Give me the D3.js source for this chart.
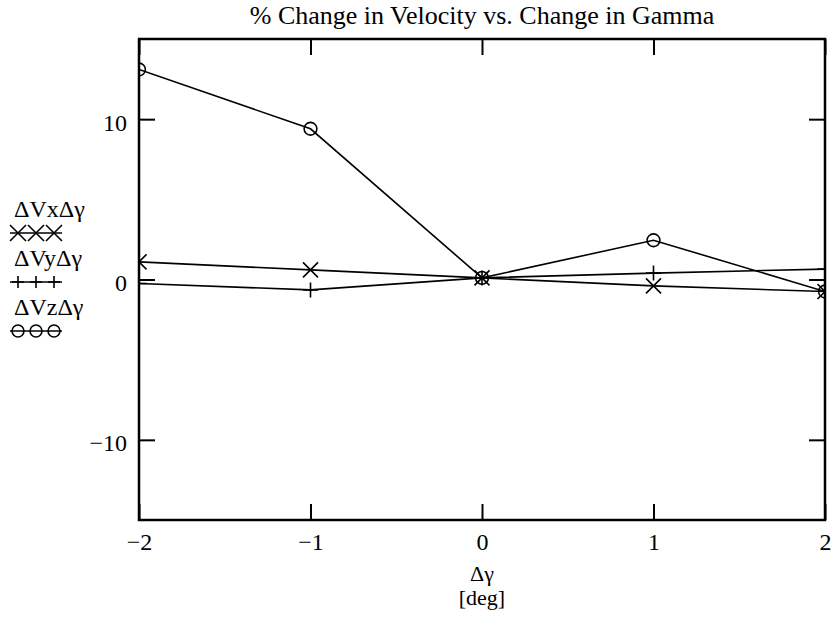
<!DOCTYPE html>
<html><head><meta charset="utf-8">
<script src="https://cdn.jsdelivr.net/npm/d3@7"></script>
<style>body{margin:0;background:#fff}svg{display:block}</style>
</head><body>
<script>
const gammaX = [-2, -1, 0, 1, 2];
const dVx = [1.1, 0.6, 0.1, -0.4, -0.75];
const dVy = [-0.25, -0.65, 0.1, 0.4, 0.65];
const dVz = [13.1, 9.4, 0.1, 2.45, -0.75];
const xTicks = [-2, -1, 0, 1, 2];
const yTicks = [-10, 0, 10];
const seriesNames = ["\u0394Vx\u0394\u03b3", "\u0394Vy\u0394\u03b3", "\u0394Vz\u0394\u03b3"];
const markerTypes = ["x", "plus", "circle"];

const FONT = "'Liberation Serif', 'DejaVu Serif', serif";
const W = 836, H = 627;
const L = 139, R = 825, T = 39, B = 520;
const svg = d3.select("body").append("svg").attr("width", W).attr("height", H)
  .attr("font-family", FONT);
const x = d3.scaleLinear().domain([-2, 2]).range([L, R]);
const y = d3.scaleLinear().domain([-15, 15]).range([B, T]);
const fmt = d => (d < 0 ? "\u2212" + Math.abs(d) : "" + d);

svg.append("defs").append("clipPath").attr("id", "clip")
  .append("rect").attr("x", L).attr("y", T).attr("width", R - L).attr("height", B - T);

// title
svg.append("text").attr("x", (L + R) / 2).attr("y", 24).attr("text-anchor", "middle")
  .attr("font-family", FONT).attr("font-size", 26).text("% Change in Velocity vs. Change in Gamma");

// axes
const tl = 16;
function styleAxis(g) {
  g.attr("font-family", FONT);
  g.select(".domain").remove();
  g.selectAll("line").attr("stroke", "#000").attr("stroke-width", 2);
  g.selectAll("text").attr("font-family", FONT).attr("font-size", 24).attr("fill", "#000");
}
svg.append("g").attr("transform", `translate(0,${B})`)
  .call(d3.axisBottom(x).tickValues(xTicks).tickSize(-tl).tickPadding(13).tickFormat(fmt))
  .call(styleAxis);
svg.append("g").attr("transform", `translate(0,${T})`)
  .call(d3.axisTop(x).tickValues(xTicks).tickSize(-tl).tickFormat(""))
  .call(styleAxis);
svg.append("g").attr("transform", `translate(${L},0)`)
  .call(d3.axisLeft(y).tickValues(yTicks).tickSize(-tl).tickPadding(12).tickFormat(fmt))
  .call(styleAxis)
  .call(g => g.selectAll("text").attr("dy", "0.46em"));
svg.append("g").attr("transform", `translate(${R},0)`)
  .call(d3.axisRight(y).tickValues(yTicks).tickSize(-tl).tickFormat(""))
  .call(styleAxis);

svg.append("rect").attr("x", L).attr("y", T).attr("width", R - L).attr("height", B - T)
  .attr("fill", "none").attr("stroke", "#000").attr("stroke-width", 2.5);

// axis labels
svg.append("text").attr("x", (L + R) / 2).attr("y", 581).attr("text-anchor", "middle").attr("font-size", 22).text("\u0394\u03b3");
svg.append("text").attr("x", (L + R) / 2).attr("y", 605).attr("text-anchor", "middle").attr("font-size", 22).text("[deg]");

function marker(g, type, cx, cy, s) {
  if (type === "x") {
    g.append("path").attr("d", `M${cx - s},${cy - s}L${cx + s},${cy + s}M${cx - s},${cy + s}L${cx + s},${cy - s}`)
      .attr("stroke", "#000").attr("stroke-width", 1.6).attr("fill", "none");
  } else if (type === "plus") {
    g.append("path").attr("d", `M${cx - s},${cy}L${cx + s},${cy}M${cx},${cy - s}L${cx},${cy + s}`)
      .attr("stroke", "#000").attr("stroke-width", 1.6).attr("fill", "none");
  } else {
    g.append("circle").attr("cx", cx).attr("cy", cy).attr("r", s * 0.85)
      .attr("stroke", "#000").attr("stroke-width", 1.6).attr("fill", "none");
  }
}

const plot = svg.append("g").attr("clip-path", "url(#clip)");
const line = d3.line().x((d, i) => x(gammaX[i])).y(d => y(d));
[dVx, dVy, dVz].forEach((vals, k) => {
  plot.append("path").datum(vals).attr("d", line).attr("fill", "none").attr("stroke", "#000").attr("stroke-width", 1.6);
  vals.forEach((v, i) => marker(plot, markerTypes[k], x(gammaX[i]), y(v), 7.5));
});

// legend
const leg = svg.append("g");
const legSize = [8, 6, 7];
seriesNames.forEach((name, k) => {
  const ty = 217 + k * 49;
  leg.append("text").attr("x", 14).attr("y", ty).attr("font-size", 24).text(name);
  const my = ty + 16;
  leg.append("line").attr("x1", 10).attr("x2", 62).attr("y1", my).attr("y2", my).attr("stroke", "#000").attr("stroke-width", 1.6);
  [18, 36, 54].forEach(mx => marker(leg, markerTypes[k], mx, my, legSize[k]));
});
</script>
</body></html>
